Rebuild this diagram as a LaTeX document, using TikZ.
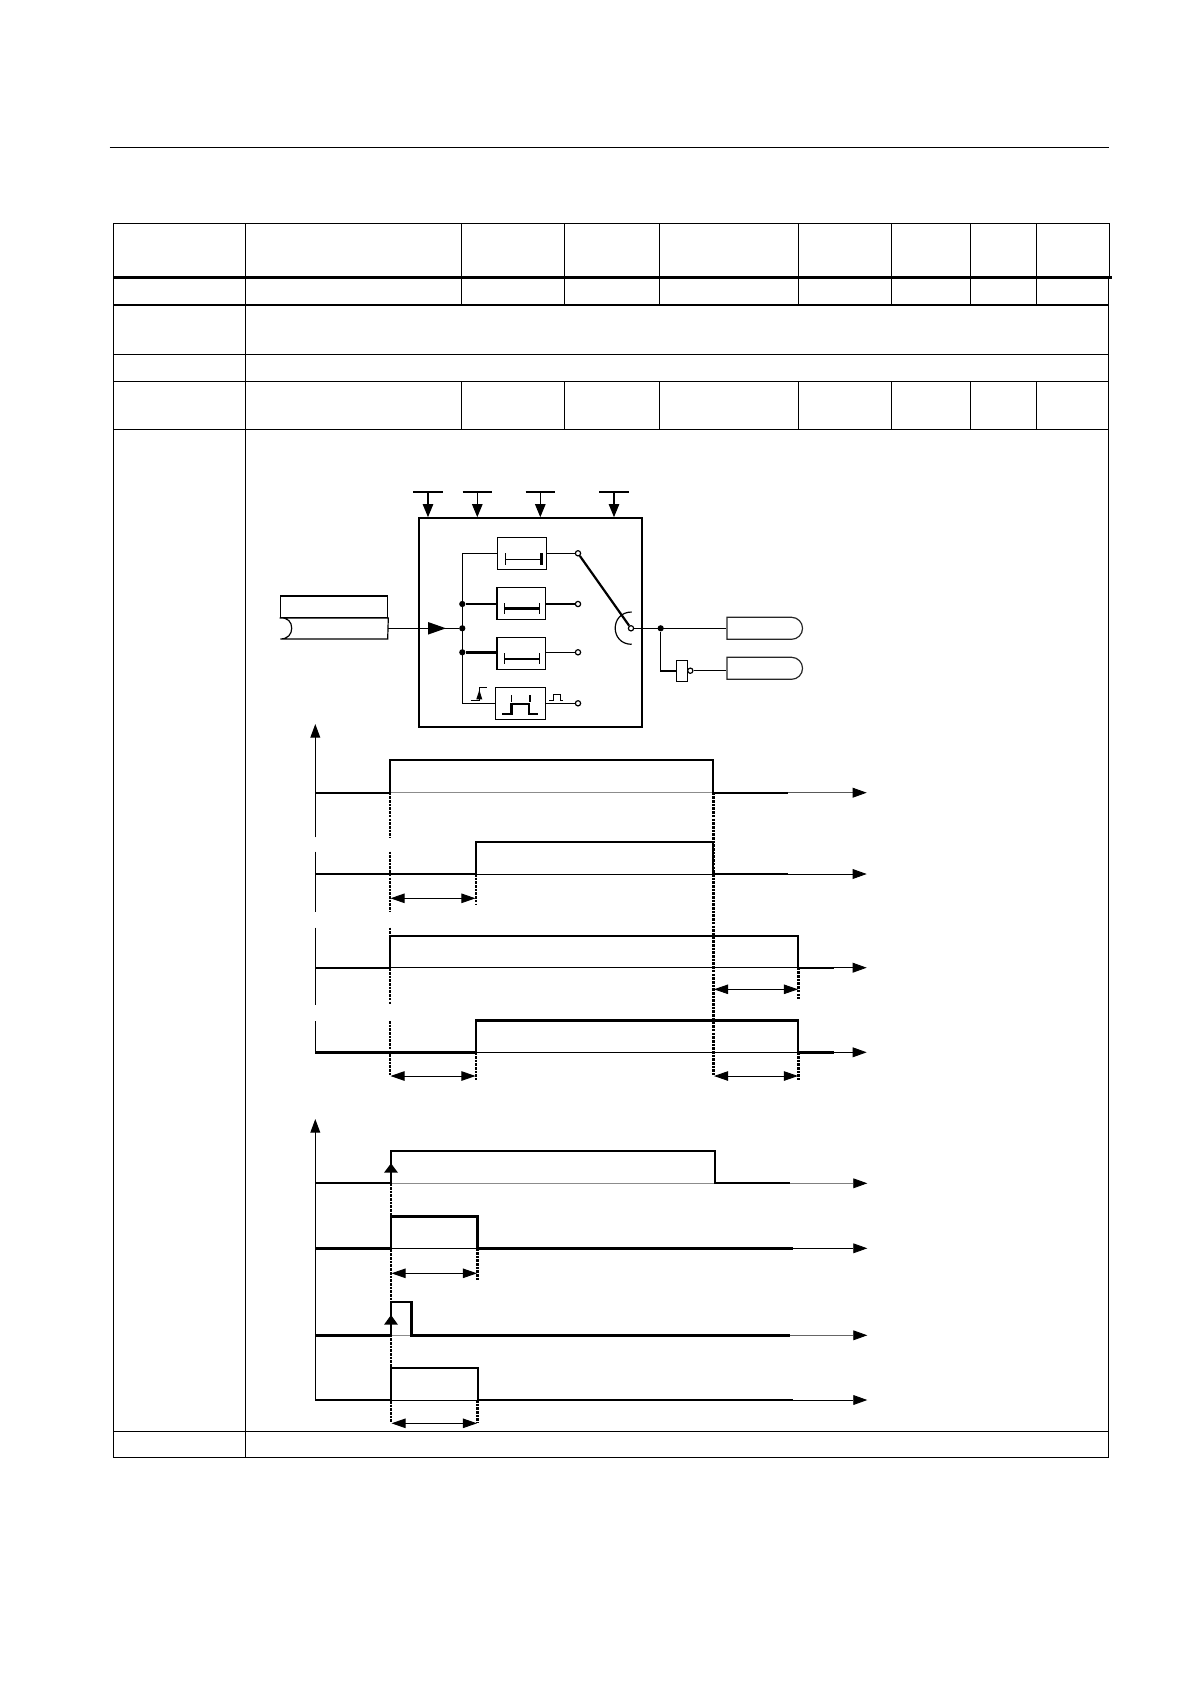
\documentclass[tikz,border=0pt]{standalone}
\usepackage{tikz}
\usetikzlibrary{arrows.meta}
\usetikzlibrary{shapes.misc}

\begin{document}
\begin{tikzpicture}[x=0.02cm,y=-0.02cm,
      rule/.style={line width=0.68pt},
      thin rule/.style={line width=0.57pt},
      heavy rule/.style={line width=1.5pt},
      mode box/.style={rectangle,draw=black,line width=0.68pt,minimum width=0.97cm,minimum height=0.64cm,inner sep=0pt},
      output box/.style={rounded rectangle,rounded rectangle left arc=none,draw=black!85,line width=0.68pt,minimum width=1.51cm,minimum height=0.44cm,inner sep=0pt},
      contact/.style={circle,draw=black,fill=white,line width=0.68pt,minimum size=0.105cm,inner sep=0pt},
      junction/.style={circle,fill=black,minimum size=0.125cm,inner sep=0pt},
      down arrow/.style={line width=0.68pt,-{Triangle[length=7.5pt,width=6pt,color=black]}},
      axis/.style={line width=0.6pt,-{Triangle[length=7.8pt,width=5.6pt,color=black]}},
      time arrow/.style={line width=0.5pt,-{Triangle[length=8pt,width=5.6pt,color=black]}},
      span/.style={line width=0.5pt,{Triangle[length=8pt,width=5.4pt,color=black]}-{Triangle[length=8pt,width=5.4pt,color=black]}},
      signal/.style={line width=1.1pt,line join=miter},
      heavy signal/.style={line width=1.45pt,line join=miter},
      base/.style={line width=0.55pt},
      grey base/.style={line width=0.6pt,draw=black!45},
      drop/.style={line width=1.5pt,dash pattern=on 1.5pt off 0.6pt}
      ]
      \useasboundingbox (0,0) rectangle (1190,1684);
      % page rule
      \draw[rule] (109.5,147.5) -- (1109,147.5);
      % table
      \draw[rule] (113.3,223.3) -- (1109.7,223.3) -- (1109.7,277.3);
      \draw[rule] (113.3,223.3) -- (113.3,1457.3) -- (1108.3,1457.3) -- (1108.3,277.3);
      \draw[line width=1.55pt] (113.3,277.3) -- (1112,277.3);
      \draw[rule] (113.3,305) -- (1108.3,305);
      \draw[rule] (113.3,354.3) -- (1108.3,354.3);
      \draw[rule] (113.3,381.3) -- (1108.3,381.3);
      \draw[rule] (113.3,429.3) -- (1108.3,429.3);
      \draw[rule] (113.3,1431.3) -- (1108.3,1431.3);
      \draw[rule] (245.7,223.3) -- (245.7,1457.3);
      \draw[rule] (461.7,223.3) -- (461.7,305) (461.7,381.3) -- (461.7,429.3);
      \draw[rule] (564.7,223.3) -- (564.7,305) (564.7,381.3) -- (564.7,429.3);
      \draw[rule] (659.3,223.3) -- (659.3,305) (659.3,381.3) -- (659.3,429.3);
      \draw[rule] (798.3,223.3) -- (798.3,305) (798.3,381.3) -- (798.3,429.3);
      \draw[rule] (891.7,223.3) -- (891.7,305) (891.7,381.3) -- (891.7,429.3);
      \draw[rule] (970.7,223.3) -- (970.7,305) (970.7,381.3) -- (970.7,429.3);
      \draw[rule] (1036.7,223.3) -- (1036.7,305) (1036.7,381.3) -- (1036.7,429.3);
      % function block
      \node[draw=black,line width=0.95pt,minimum width=4.466cm,minimum height=4.174cm,inner sep=0pt] (block) at (530.35,622.35) {};
      \coordinate (in1) at (428,492);
      \coordinate (in2) at (477.3,492);
      \coordinate (in3) at (540.3,492);
      \coordinate (in4) at (614,492);
      \draw[rule] (413.3,492) -- (442.7,492) (462.7,492) -- (491.7,492) (525.7,492) -- (555,492) (599.3,492) -- (629,492);
      \draw[down arrow] (in1) -- (block.north -| in1);
      \draw[down arrow] (in2) -- (block.north -| in2);
      \draw[down arrow] (in3) -- (block.north -| in3);
      \draw[down arrow] (in4) -- (block.north -| in4);
      \node[draw=black,line width=0.68pt,minimum width=2.148cm,minimum height=0.427cm,inner sep=0pt] (store) at (334,606.65) {};
      \draw[rule] (store.south west) -- (store.south east) -- (387.7,639) -- (280.3,639)
      .. controls (288,639) and (291.7,634) .. (291.7,628.3) .. controls (291.7,622) and (288,617.3) .. (store.south west);
      \coordinate (store out) at (387.7,628.3);
      \node[junction] (join2) at (462.3,604) {};
      \node[junction] (join) at (462.3,628.3) {};
      \node[junction] (join3) at (462.3,652.3) {};
      \coordinate (bus top) at (462.3,553.3);
      \coordinate (bus end) at (462.3,703.3);
      \node[mode box] (mode1) at (522,553.3) {};
      \node[mode box] (mode2) at (521.2,603.3) {};
      \node[mode box] (mode3) at (521.2,653.3) {};
      \node[mode box,minimum width=1cm] (mode4) at (520.7,703.3) {};
      \node[contact] (c1) at (578,553.3) {};
      \node[contact] (c2) at (578,604) {};
      \node[contact] (c3) at (578,652.3) {};
      \node[contact] (c4) at (578,703.3) {};
      \node[contact] (cout) at (631,628.3) {};
      \draw[rule] (store out) -- (join);
      \path[fill=black] (428,622) -- (446,628.3) -- (428,634.6) -- cycle;
      \draw[rule] (mode1.west) -| (bus top) -- (bus end) -- (mode4.west);
      \draw[rule] (join2) -- (mode2.west |- join2);
      \draw[heavy rule] (join3) -- (mode3.west |- join3);
      \draw[rule] (mode1.east) -- (c1);
      \draw[rule] (mode2.east |- c2) -- (c2);
      \draw[rule] (mode3.east |- c3) -- (c3);
      \draw[rule] (mode4.east) -- (c4);
      \draw[line width=1.25pt] (c1) -- (cout);
      \draw[rule] (631.7,612) .. controls (609.7,612) and (609.7,644.3) .. (631.7,644.3);
      % delay bars
      \draw[rule] (505.7,559.3) -- (541.7,559.3) (505.7,553) -- (505.7,565);
      \draw[heavy rule] (541.7,553) -- (541.7,565);
      \draw[heavy rule] (504.7,608.7) -- (539.3,608.7);
      \draw[rule] (504.7,603) -- (504.7,614) (539.3,603) -- (539.3,614);
      \draw[heavy rule] (504.7,659) -- (539.3,659);
      \draw[rule] (504.7,653) -- (504.7,664) (539.3,653) -- (539.3,664);
      \draw[heavy rule] (502.3,714) -- (511.7,714) -- (511.7,704) -- (529,704) -- (529,714) -- (537.7,714);
      \draw[rule] (511.7,695) -- (511.7,701.7) (530,695) -- (530,701.7);
      \draw[thin rule] (470.7,700) -- (479.3,700) -- (479.3,687.3) -- (486.7,687.3);
      \path[fill=black] (479.3,690) -- (482.3,699.3) -- (476.3,699.3) -- cycle;
      \draw[thin rule] (549.3,700) -- (553.3,700) -- (553.3,694) -- (560,694) -- (560,700) -- (562.7,700);
      % outputs
      \node[output box] (out1) at (764.8,628.3) {};
      \node[output box] (out2) at (764.8,668.3) {};
      \node[junction] (tap) at (660.7,628.3) {};
      \node[draw=black,line width=0.68pt,minimum width=0.22cm,minimum height=0.43cm,inner sep=0pt] (inv) at (682.2,671) {};
      \node[contact] (bubble) at (690.3,670.7) {};
      \draw[rule] (cout) -- (out1.west);
      \draw[rule] (tap) |- (inv.west);
      \draw[rule] (bubble) -- (bubble -| out2.west);
      % upper timing group
      \coordinate (axis1 low) at (315.3,837.3);
      \coordinate (axis1 top) at (315.3,724);
      \draw[axis] (axis1 low) -- (axis1 top);
      \draw[thin rule] (315.3,851.7) -- (315.3,911.7) (315.3,927.7) -- (315.3,1005) (315.3,1021) -- (315.3,1052.3);
      \draw[grey base] (390,792.7) -- (713.3,792.7);
      \draw[base] (476,874) -- (713.3,874);
      \draw[base] (390,967.7) -- (798,967.7);
      \draw[base] (476,1052.3) -- (798,1052.3);
      \draw[time arrow,draw=black!65] (787.7,792.7) -- (866.7,792.7);
      \draw[time arrow] (787.7,874) -- (866.7,874);
      \draw[time arrow] (834,967.7) -- (866.7,967.7);
      \draw[time arrow] (834,1052.3) -- (866.7,1052.3);
      \draw[signal] (315.3,792.7) -- (390,792.7) -- (390,760) -- (713.3,760) -- (713.3,792.7) -- (787.7,792.7);
      \draw[signal] (315.3,874) -- (476,874) -- (476,842) -- (713.3,842) -- (713.3,874) -- (787.7,874);
      \draw[signal] (315.3,967.7) -- (390,967.7) -- (390,936) -- (798,936) -- (798,967.7) -- (834,967.7);
      \draw[heavy signal] (315.3,1052.3) -- (476,1052.3) -- (476,1020.3) -- (798,1020.3) -- (798,1052.3) -- (834,1052.3);
      \draw[drop] (390,792.7) -- (390,837.3) (390,851.7) -- (390,911.7) (390,927.7) -- (390,1004.3) (390,1021) -- (390,1075);
      \draw[drop] (476,874) -- (476,905) (476,1052.3) -- (476,1080);
      \draw[drop] (713.3,792.7) -- (713.3,1075);
      \draw[drop] (798.7,967.7) -- (798.7,999.3) (798.7,1052.3) -- (798.7,1080);
      \draw[span] (390.5,898.3) -- (475.5,898.3);
      \draw[span] (714,989.3) -- (798,989.3);
      \draw[span] (390.5,1076) -- (475.5,1076);
      \draw[span] (714,1076) -- (798,1076);
      % lower timing group
      \coordinate (axis2 low) at (315.3,1400);
      \coordinate (axis2 top) at (315.3,1119);
      \draw[axis] (axis2 low) -- (axis2 top);
      \draw[grey base] (391,1183.3) -- (715,1183.3);
      \draw[base] (391,1248.3) -- (477.7,1248.3);
      \draw[grey base] (391,1335.3) -- (411.7,1335.3);
      \draw[base] (391,1400) -- (477.7,1400);
      \draw[time arrow,draw=black!50] (790,1183.3) -- (867.3,1183.3);
      \draw[time arrow] (792.7,1248.3) -- (867.3,1248.3);
      \draw[time arrow,draw=black!60] (790,1335.3) -- (867.3,1335.3);
      \draw[time arrow] (792.7,1400) -- (867.3,1400);
      \draw[signal] (315.3,1183.3) -- (391,1183.3) -- (391,1151) -- (715,1151) -- (715,1183.3) -- (790,1183.3);
      \draw[heavy signal] (315.3,1248.3) -- (391,1248.3) -- (391,1216.3) -- (477.7,1216.3) -- (477.7,1248.3) -- (792.7,1248.3);
      \draw[heavy signal] (315.3,1335.3) -- (391,1335.3) -- (391,1302) -- (411.7,1302) -- (411.7,1335.3) -- (790,1335.3);
      \draw[signal] (315.3,1400) -- (391,1400) -- (391,1367.7) -- (477.7,1367.7) -- (477.7,1400) -- (792.7,1400);
      \draw[drop] (391,1183.3) -- (391,1421.7);
      \draw[drop] (477.7,1248.3) -- (477.7,1280) (477.7,1400) -- (477.7,1423.3);
      \path[fill=black] (391,1163.3) -- (398,1172.7) -- (384,1172.7) -- cycle;
      \path[fill=black] (391,1315) -- (398,1324.7) -- (384,1324.7) -- cycle;
      \draw[span] (391.5,1273.3) -- (477,1273.3);
      \draw[span] (391.5,1423.3) -- (477,1423.3);
    \end{tikzpicture}
\end{document}
